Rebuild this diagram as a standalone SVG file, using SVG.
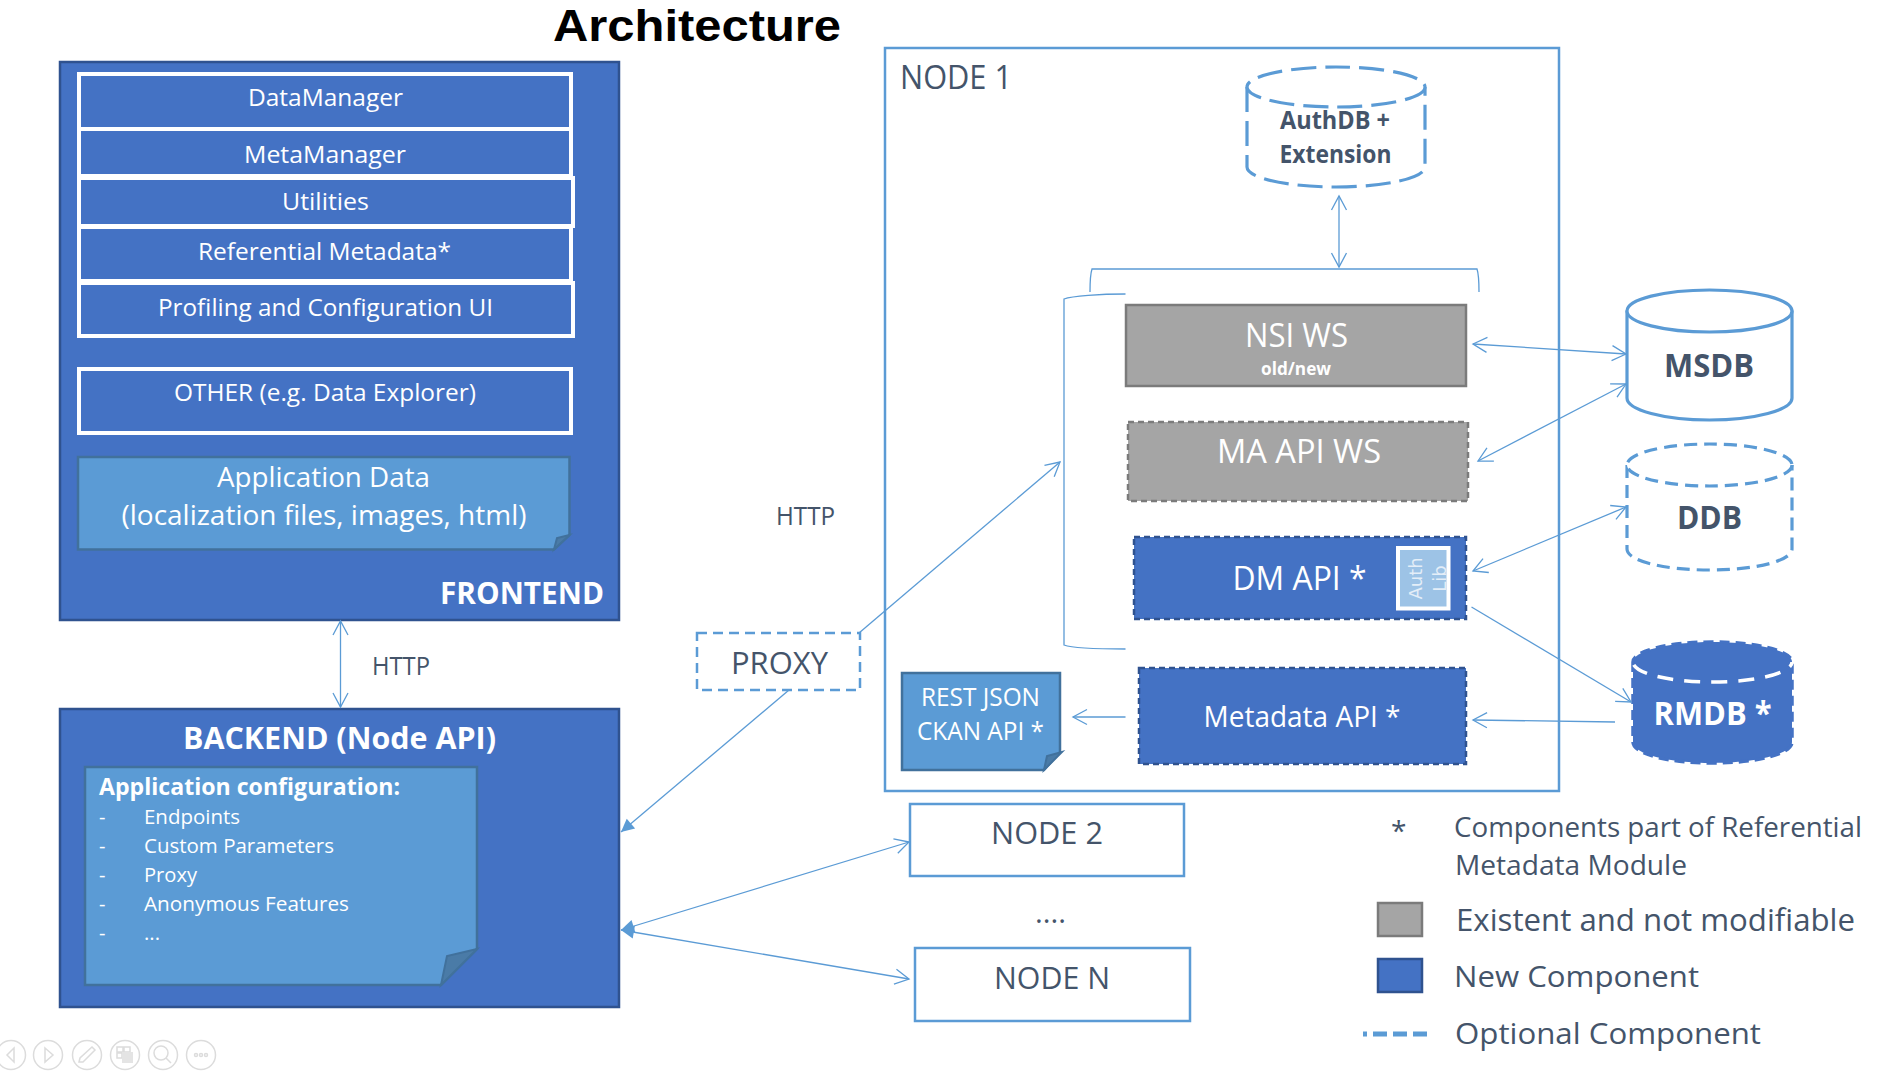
<svg xmlns="http://www.w3.org/2000/svg" width="1880" height="1074" viewBox="0 0 1880 1074">
<style>
text{font-family:"Open Sans","Noto Sans","Liberation Sans",sans-serif;fill:#44546a}
.w{fill:#fff}.c{text-anchor:middle}.b{font-weight:700}
.blue{fill:#4472c4;stroke:#2f528f;stroke-width:2.5}
.wbox{fill:#4472c4;stroke:#fff;stroke-width:4}
.note{fill:#5b9bd5;stroke:#41719c;stroke-width:2.5}
.fold{fill:#4a7ba7;stroke:#41719c;stroke-width:2}
.grey{fill:#a5a5a5;stroke:#7b7b7b;stroke-width:2.5}
.ln{fill:none;stroke:#5b9bd5;stroke-width:2.5}
.dash{stroke-dasharray:10 6}
.db{fill:#fff;stroke:#5b9bd5;stroke-width:3.2}
.dlong{stroke-dasharray:25 9}
.dmid{stroke-dasharray:13 7}
.thin{fill:none;stroke:#5b9bd5;stroke-width:1.3}
.both{marker-start:url(#open);marker-end:url(#open)}
.end{marker-end:url(#open)}
.tool{fill:none;stroke:#dcdcdc;stroke-width:1.5}
</style>
<defs>
<marker id="open" markerUnits="userSpaceOnUse" markerWidth="20" markerHeight="20" refX="15" refY="10" orient="auto-start-reverse"><path d="M1 2.5 L15 10 L1 17.5" fill="none" stroke="#5b9bd5" stroke-width="1.3"/></marker>
<marker id="solid" markerUnits="userSpaceOnUse" markerWidth="18" markerHeight="18" refX="14" refY="9" orient="auto-start-reverse"><path d="M1 2.5 L14 9 L1 15.500 Z" fill="#5b9bd5"/></marker>
</defs>

<text id="title" x="553" y="41" font-size="45" class="b" style="fill:#000;font-family:'Liberation Sans',Arial,sans-serif" textLength="288" lengthAdjust="spacingAndGlyphs">Architecture</text>

<g id="frontend">
<rect class="blue" x="60" y="62" width="559" height="558"/>
<rect class="wbox" x="79" y="74" width="492" height="55"/>
<rect class="wbox" x="79" y="129" width="492" height="47"/>
<rect class="wbox" x="79" y="178" width="494" height="48"/>
<rect class="wbox" x="79" y="227" width="492" height="54"/>
<rect class="wbox" x="79" y="283" width="494" height="53"/>
<rect class="wbox" x="79" y="369" width="492" height="64"/>
<path class="note" d="M78 457H569.500V535L554 549.500H78Z"/>
<path class="fold" d="M569.500 535L557 538L554 549.500Z"/>
<g class="c" font-size="24">
<text class="w c" x="325.500" y="106" textLength="155" lengthAdjust="spacingAndGlyphs">DataManager</text>
<text class="w c" x="325" y="163" textLength="162" lengthAdjust="spacingAndGlyphs">MetaManager</text>
<text class="w c" x="325.500" y="210" textLength="87" lengthAdjust="spacingAndGlyphs">Utilities</text>
<text class="w c" x="324.500" y="260" textLength="253" lengthAdjust="spacingAndGlyphs">Referential Metadata*</text>
<text class="w c" x="325.500" y="316" textLength="335" lengthAdjust="spacingAndGlyphs">Profiling and Configuration UI</text>
<text class="w c" x="325" y="401" textLength="302" lengthAdjust="spacingAndGlyphs">OTHER (e.g. Data Explorer)</text>
<text class="w c" x="323.500" y="487" font-size="28" textLength="213" lengthAdjust="spacingAndGlyphs">Application Data</text>
<text class="w c" x="324" y="525" font-size="28" textLength="405" lengthAdjust="spacingAndGlyphs">(localization files, images, html)</text>
</g>
<text class="w b" x="440" y="604" font-size="30" textLength="164" lengthAdjust="spacingAndGlyphs">FRONTEND</text>
</g>

<g id="backend">
<rect class="blue" x="60" y="709" width="559" height="298"/>
<path class="note" d="M85 767H477V949L441 985H85Z"/>
<path class="fold" d="M477 949L447 956L441 985Z"/>
<text class="w b c" x="339.500" y="749" font-size="30" textLength="313" lengthAdjust="spacingAndGlyphs">BACKEND (Node API)</text>
<text class="w b" x="99" y="795" font-size="24" textLength="301" lengthAdjust="spacingAndGlyphs">Application configuration:</text>
<g font-size="20">
<text class="w" x="99" y="824">-</text><text class="w" x="144" y="824" textLength="96" lengthAdjust="spacingAndGlyphs">Endpoints</text>
<text class="w" x="99" y="853">-</text><text class="w" x="144" y="853" textLength="190" lengthAdjust="spacingAndGlyphs">Custom Parameters</text>
<text class="w" x="99" y="882">-</text><text class="w" x="144" y="882" textLength="53" lengthAdjust="spacingAndGlyphs">Proxy</text>
<text class="w" x="99" y="911">-</text><text class="w" x="144" y="911" textLength="205" lengthAdjust="spacingAndGlyphs">Anonymous Features</text>
<text class="w" x="99" y="940">-</text><text class="w" x="144" y="940" textLength="16" lengthAdjust="spacingAndGlyphs">...</text>
</g>
</g>

<g id="proxy">
<rect class="ln dash" x="697" y="633" width="163" height="57"/>
<text class="c" x="779.500" y="674" font-size="30.500" textLength="97" lengthAdjust="spacingAndGlyphs">PROXY</text>
</g>

<g id="node1">
<rect class="ln" x="885" y="48" width="674" height="743"/>
<text x="900" y="89" font-size="32" textLength="112" lengthAdjust="spacingAndGlyphs">NODE 1</text>
</g>

<g id="authdb">
<path class="db dlong" d="M1247 87V167C1247 178 1287 187 1336 187S1425 178 1425 167V87"/>
<ellipse class="db dlong" cx="1336" cy="87" rx="89" ry="20"/>
<text class="b c" x="1335" y="129" font-size="25" textLength="110" lengthAdjust="spacingAndGlyphs">AuthDB +</text>
<text class="b c" x="1335.500" y="163" font-size="25" textLength="112" lengthAdjust="spacingAndGlyphs">Extension</text>
</g>

<g id="nsi-ws">
<rect class="grey" x="1126" y="305" width="340" height="81"/>
<text class="w c" x="1296.500" y="347" font-size="32" textLength="103" lengthAdjust="spacingAndGlyphs">NSI WS</text>
<text class="w c b" x="1296" y="375" font-size="17" textLength="70" lengthAdjust="spacingAndGlyphs">old/new</text>
</g>
<g id="ma-api-ws">
<rect class="grey" style="stroke-dasharray:6 4" x="1128" y="422" width="340" height="79"/>
<text class="w c" x="1299" y="463" font-size="32" textLength="164" lengthAdjust="spacingAndGlyphs">MA API WS</text>
</g>
<g id="dm-api">
<rect class="blue" style="stroke-dasharray:6 4" x="1134" y="537" width="332" height="82"/>
<text class="w c" x="1299.500" y="590" font-size="32" textLength="134" lengthAdjust="spacingAndGlyphs">DM API *</text>
<rect x="1398" y="548" width="50.500" height="60.500" fill="#9dc3e6" stroke="#fff" stroke-width="4"/>
<text text-anchor="middle" font-size="18" transform="translate(1422 578.500) rotate(-90)" style="fill:#e4eef8;font-family:'DejaVu Sans',sans-serif">Auth</text>
<text text-anchor="middle" font-size="18" transform="translate(1446 578.500) rotate(-90)" style="fill:#e4eef8;font-family:'DejaVu Sans',sans-serif">Lib</text>
</g>
<g id="metadata-api">
<rect class="blue" style="stroke-dasharray:6 4" x="1139" y="668" width="327" height="96"/>
<text class="w c" x="1302" y="727" font-size="29" textLength="197" lengthAdjust="spacingAndGlyphs">Metadata API *</text>
</g>
<g id="rest-ckan">
<path class="note" d="M902 673H1060V752L1044 770H902Z"/>
<path class="fold" d="M1062 752L1047 756L1044 770Z"/>
<text class="w c" x="980.500" y="706" font-size="25" textLength="119" lengthAdjust="spacingAndGlyphs">REST JSON</text>
<text class="w c" x="980.500" y="740" font-size="25" textLength="127" lengthAdjust="spacingAndGlyphs">CKAN API *</text>
</g>

<g id="msdb">
<path class="db" d="M1627 310.500V398C1627 410 1664 420 1709.500 420S1792 410 1792 398V310.500"/>
<ellipse class="db" cx="1709.500" cy="311" rx="82.500" ry="21"/>
<text class="b c" x="1709" y="377" font-size="32" textLength="90" lengthAdjust="spacingAndGlyphs">MSDB</text>
</g>
<g id="ddb">
<path class="db dmid" d="M1627 465V549C1627 561 1664 570 1709.500 570S1792 561 1792 549V465"/>
<ellipse class="db dmid" cx="1709.500" cy="465" rx="82.500" ry="21"/>
<text class="b c" x="1709.500" y="529" font-size="32" textLength="65" lengthAdjust="spacingAndGlyphs">DDB</text>
</g>
<g id="rmdb">
<path d="M1633 662V742C1633 754 1668 763 1712.500 763S1792 754 1792 742V662C1792 651 1757 642 1712.500 642S1633 651 1633 662Z" fill="#4472c4" stroke="#4472c4" stroke-width="3.500" stroke-dasharray="10 6"/>
<path d="M1633 662C1633 673 1668 682 1712.500 682S1792 673 1792 662" fill="none" stroke="#fff" stroke-width="3.500" stroke-dasharray="16 11" stroke-dashoffset="-30"/>
<text class="w b c" x="1712.500" y="725" font-size="32" textLength="118" lengthAdjust="spacingAndGlyphs">RMDB *</text>
</g>

<g id="node2">
<rect class="ln" x="910" y="804" width="274" height="72"/>
<text class="c" x="1047" y="844" font-size="31" textLength="112" lengthAdjust="spacingAndGlyphs">NODE 2</text>
</g>
<text id="ellipsis" class="c" x="1050.500" y="923" font-size="30" textLength="31" lengthAdjust="spacingAndGlyphs">....</text>
<g id="nodeN">
<rect class="ln" x="915" y="948" width="275" height="73"/>
<text class="c" x="1052" y="989" font-size="31" textLength="116" lengthAdjust="spacingAndGlyphs">NODE N</text>
</g>

<g id="connectors">
<path class="thin both" d="M340.500 621V707"/>
<path class="thin" d="M859 633L1060 462" marker-end="url(#open)"/>
<path class="thin" d="M789 690L621 832" marker-end="url(#solid)"/>
<path class="thin" d="M909 842L621 930" marker-start="url(#open)" marker-end="url(#solid)"/>
<path class="thin" d="M909 979L621 930" marker-start="url(#open)" marker-end="url(#solid)"/>
<path class="thin both" d="M1339 196V267"/>
<path class="thin" d="M1090 292C1090 280 1091 272 1092 269H1477C1478 272 1479 280 1479 292"/>
<path class="thin" d="M1125.500 294C1100 294 1072 296 1064 299V645C1072 648 1100 649 1125.500 649"/>
<path class="thin both" d="M1473 344L1626 354"/>
<path class="thin both" d="M1478 461L1626 384"/>
<path class="thin both" d="M1473 571L1626 507"/>
<path class="thin end" d="M1471.500 607L1631 702"/>
<path class="thin end" d="M1615 722L1473 720"/>
<path class="thin end" d="M1125.500 717H1073"/>
</g>

<text id="http-1" x="372" y="675" font-size="25" textLength="58" lengthAdjust="spacingAndGlyphs">HTTP</text>
<text id="http-2" x="776" y="525" font-size="25" textLength="59" lengthAdjust="spacingAndGlyphs">HTTP</text>

<g id="legend">
<text x="1391" y="841" font-size="28">*</text>
<text x="1454" y="837" font-size="28" textLength="408" lengthAdjust="spacingAndGlyphs">Components part of Referential</text>
<text x="1455" y="875" font-size="28" textLength="232" lengthAdjust="spacingAndGlyphs">Metadata Module</text>
<rect class="grey" x="1378" y="903" width="44" height="33"/>
<text x="1456" y="931" font-size="31" textLength="399" lengthAdjust="spacingAndGlyphs">Existent and not modifiable</text>
<rect class="blue" x="1378" y="959" width="44" height="33"/>
<text x="1454" y="987" font-size="30" textLength="245" lengthAdjust="spacingAndGlyphs">New Component</text>
<path d="M1363 1034H1428" stroke="#5b9bd5" stroke-width="5" stroke-dasharray="14 6" stroke-dashoffset="10" fill="none"/>
<text x="1455" y="1044" font-size="30" textLength="306" lengthAdjust="spacingAndGlyphs">Optional Component</text>
</g>

<g id="toolbar">
<circle class="tool" cx="11" cy="1055" r="14.500"/><path class="tool" d="M14 1048L7 1055L14 1062Z"/>
<circle class="tool" cx="48" cy="1055" r="14.500"/><path class="tool" d="M45 1048L53 1055L45 1062Z"/>
<circle class="tool" cx="87" cy="1055" r="14.500"/><path class="tool" d="M79 1062L83 1062L95 1050L92 1047L80 1058Z"/>
<circle class="tool" cx="125" cy="1055" r="14.500"/><path class="tool" d="M117 1047h6v5h-6zM124 1047h6v5h-6zM117 1053h5v5h-5z"/><rect x="122" y="1052" width="11" height="11" fill="#e4e4e4"/>
<circle class="tool" cx="163" cy="1055" r="14.500"/><circle class="tool" cx="161" cy="1053" r="7"/><path class="tool" d="M166 1058L171 1063" stroke-width="2.500"/>
<circle class="tool" cx="201" cy="1055" r="14.500"/><circle class="tool" cx="196" cy="1055" r="1.500"/><circle class="tool" cx="201" cy="1055" r="1.500"/><circle class="tool" cx="206" cy="1055" r="1.500"/>
</g>
</svg>
